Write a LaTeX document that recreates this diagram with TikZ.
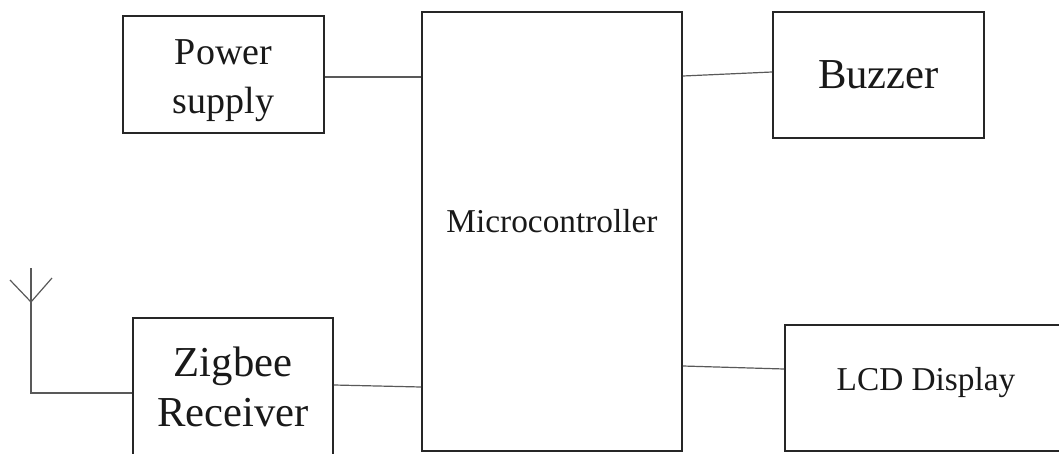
\documentclass[tikz,border=0pt]{standalone}
\usepackage{fontspec}
\setmainfont{Liberation Serif}
\begin{document}
\begin{tikzpicture}[x=0.75pt,y=-0.75pt,
  blk/.style={draw=black!85, line width=1.4pt, rectangle, inner sep=0pt, align=center, text=black!90},
  wire/.style={draw=black!65, line width=0.9pt}]
\useasboundingbox (0,0) rectangle (1059,453);
\clip (0,0) rectangle (1059,453);
\node[blk, minimum width=150.75pt, minimum height=87.75pt,
  font=\fontsize{28.5}{37}\selectfont] (pow) at (223.5,74.5) {\rule{0pt}{28pt}Power\\supply};
\node[blk, minimum width=195pt, minimum height=329.25pt,
  font=\fontsize{25}{30}\selectfont] (mcu) at (552,231.5) {\raisebox{-1.1pt}[0pt][0pt]{Microcontroller}};
\node[blk, minimum width=158.25pt, minimum height=94.5pt,
  font=\fontsize{32}{38}\selectfont] (buz) at (878.5,75) {Buzzer};
\node[blk, minimum width=217.5pt, minimum height=94.5pt,
  font=\fontsize{25}{30}\selectfont] (lcd) at (930,388) {\hspace*{-6pt}\raisebox{-1.5pt}[0pt][0pt]{LCD Display}};
\node[blk, minimum width=150pt, minimum height=106.5pt,
  font=\fontsize{32}{37.5}\selectfont] (zig) at (233,389) {Zigbee\\Receiver\rule[-4pt]{0pt}{0pt}};
% helper heights
\coordinate (h1) at (0,77);
\coordinate (h2a) at (0,76);
\coordinate (h2b) at (0,72);
\coordinate (h3a) at (0,385);
\coordinate (h3b) at (0,387);
\coordinate (h4a) at (0,366);
\coordinate (h4b) at (0,369);
\coordinate (h5) at (0,393);
\draw[wire] (pow.east |- h1) -- (mcu.west |- h1);
\draw[wire] (mcu.east |- h2a) -- (buz.west |- h2b);
\draw[wire] (zig.east |- h3a) -- (mcu.west |- h3b);
\draw[wire] (mcu.east |- h4a) -- (lcd.west |- h4b);
% antenna
\coordinate (antTop) at (31,268);
\coordinate (antApex) at (31,302);
\coordinate (antL) at (10,280);
\coordinate (antR) at (52,278);
\coordinate (antBot) at (31,393);
\draw[wire] (antTop) -- (antBot) -- (zig.west |- h5);
\draw[wire] (antL) -- (antApex) -- (antR);
\end{tikzpicture}
\end{document}
